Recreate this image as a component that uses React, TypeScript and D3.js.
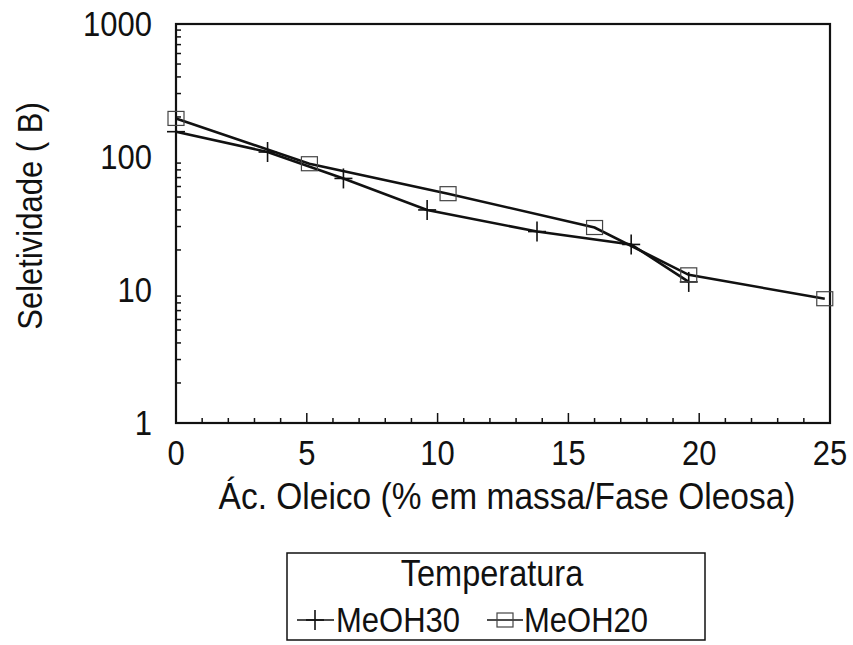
import React from "react";
import * as d3 from "d3";

// Oleic acid content (% mass in oily phase) and selectivity values
const meoh30X = [0, 3.5, 6.4, 9.6, 13.8, 17.4, 19.6];
const meoh30Y = [155, 109, 69, 40, 27.5, 22, 11.5];
const meoh20X = [0, 5.1, 10.4, 16.0, 19.6, 24.8];
const meoh20Y = [195, 89, 53, 29.5, 13, 8.6];

const xTickValues = [0, 5, 10, 15, 20, 25];
const yTickValues = [1, 10, 100, 1000];
const seriesNames = ["MeOH30", "MeOH20"];
const legendTitle = "Temperatura";
const xTitle = "Ác. Oleico (% em massa/Fase Oleosa)";
const yTitle = "Seletividade  ( B)";

const W = 853;
const H = 645;
const left = 176;
const right = 830;
const top = 24;
const bottom = 423;
const FONT = "'Liberation Sans', Arial, sans-serif";
const STRETCH = 1.12;

// Text drawn with a slight vertical stretch, anchored at its baseline
function T({
  x,
  y,
  size = 31,
  anchor = "start",
  rotate = 0,
  children,
}: {
  x: number;
  y: number;
  size?: number;
  anchor?: string;
  rotate?: number;
  children: React.ReactNode;
}) {
  return (
    <text
      transform={`translate(${x},${y}) rotate(${rotate}) scale(1,${STRETCH})`}
      textAnchor={anchor}
      fontFamily={FONT}
      fontSize={size}
      fill="#111"
    >
      {children}
    </text>
  );
}

export default function App() {
  const x = d3.scaleLinear().domain([0, 25]).range([left, right]);
  const y = d3.scaleLog().domain([1, 1000]).range([bottom, top]);

  const line = d3
    .line<[number, number]>()
    .x((d) => x(d[0]))
    .y((d) => y(d[1]));

  const s30: [number, number][] = meoh30X.map((v, i) => [v, meoh30Y[i]]);
  const s20: [number, number][] = meoh20X.map((v, i) => [v, meoh20Y[i]]);

  // minor log ticks between decades
  const yMinor: number[] = [];
  for (let dec = 1; dec < 1000; dec *= 10) {
    for (let k = 2; k <= 9; k++) yMinor.push(dec * k);
  }
  const xMinor = d3.range(0, 26, 1).filter((v) => v % 5 !== 0);

  const plus = (cx: number, cy: number, key: string) => (
    <g key={key} stroke="#111" strokeWidth={1.6}>
      <line x1={cx - 9} x2={cx + 9} y1={cy} y2={cy} />
      <line x1={cx} x2={cx} y1={cy - 10} y2={cy + 10} />
    </g>
  );
  const square = (cx: number, cy: number, key: string) => (
    <rect
      key={key}
      x={cx - 8}
      y={cy - 7}
      width={16}
      height={14}
      fill="none"
      stroke="#444"
      strokeWidth={1.2}
    />
  );

  return (
    <div style={{ position: "absolute", left: 0, top: 0 }}>
      <svg width={W} height={H} style={{ display: "block", background: "#fff" }}>
        {/* plot frame */}
        <rect
          x={left}
          y={top}
          width={right - left}
          height={bottom - top}
          fill="none"
          stroke="#111"
          strokeWidth={2.2}
        />

        {/* y ticks */}
        {yMinor.map((v) => (
          <line
            key={"ym" + v}
            x1={left}
            x2={left + 5}
            y1={y(v)}
            y2={y(v)}
            stroke="#111"
            strokeWidth={1.5}
          />
        ))}
        {yTickValues.map((v) => (
          <T key={"yl" + v} x={152} y={y(v) + 12} anchor="end">
            {v}
          </T>
        ))}

        {/* x ticks */}
        {xMinor.map((v) => (
          <line
            key={"xm" + v}
            x1={x(v)}
            x2={x(v)}
            y1={bottom}
            y2={bottom - 5}
            stroke="#111"
            strokeWidth={1.5}
          />
        ))}
        {xTickValues.map((v) => (
          <g key={"xt" + v}>
            <line
              x1={x(v)}
              x2={x(v)}
              y1={bottom}
              y2={bottom - 10}
              stroke="#111"
              strokeWidth={1.5}
            />
            <T x={x(v)} y={465} anchor="middle">
              {v}
            </T>
          </g>
        ))}

        {/* series */}
        <path d={line(s30) || ""} fill="none" stroke="#111" strokeWidth={2.6} />
        <path d={line(s20) || ""} fill="none" stroke="#111" strokeWidth={2.6} />
        {s30.map((d, i) => plus(x(d[0]), y(d[1]), "p" + i))}
        {s20.map((d, i) => square(x(d[0]), y(d[1]), "s" + i))}

        {/* axis titles */}
        <T x={507} y={509} size={33.5} anchor="middle">
          {xTitle}
        </T>
        <T x={42} y={216} rotate={-90} anchor="middle">
          {yTitle}
        </T>

        {/* legend */}
        <rect
          x={287}
          y={553}
          width={418}
          height={87}
          fill="none"
          stroke="#111"
          strokeWidth={1.5}
        />
        <T x={492} y={586} size={32.5} anchor="middle">
          {legendTitle}
        </T>
        <line x1={297} x2={334} y1={620} y2={620} stroke="#111" strokeWidth={1.5} />
        {plus(315, 620, "lp")}
        <T x={336} y={632}>
          {seriesNames[0]}
        </T>
        <line x1={487} x2={523} y1={620} y2={620} stroke="#111" strokeWidth={1.5} />
        {square(505, 620, "ls")}
        <T x={524} y={632}>
          {seriesNames[1]}
        </T>
      </svg>
    </div>
  );
}
